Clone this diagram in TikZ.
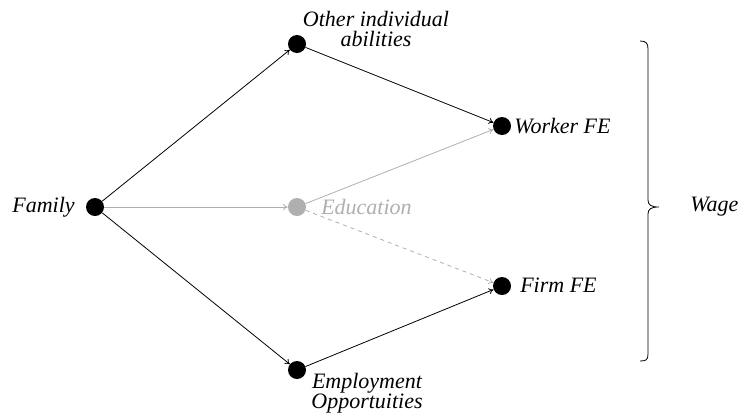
\documentclass[tikz,border=0pt]{standalone}
\usepackage{fontspec}
\setmainfont{LiberationSerif}[Extension=.ttf,UprightFont=*-Regular,ItalicFont=*-Italic,BoldFont=*-Bold,BoldItalicFont=*-BoldItalic]
\usetikzlibrary{arrows.meta}
\definecolor{lgray}{RGB}{175,175,175}
\begin{document}
\begin{tikzpicture}[x=0.75pt,y=-0.75pt,
  dot/.style={circle,fill=black,inner sep=0pt,minimum size=13.5pt},
  gdot/.style={circle,fill=lgray,inner sep=0pt,minimum size=13.5pt},
  lbl/.style={font=\fontsize{16.5}{15}\selectfont\itshape,inner sep=0pt,align=center},
  conn/.style={line width=0.6pt,-{To[length=3.5pt,width=4.5pt]}},
  gconn/.style={conn,draw=lgray}]
\useasboundingbox (0,0) rectangle (741,415);
\node[dot] (fam) at (95,207) {};
\node[dot] (oth) at (297,44) {};
\node[gdot] (edu) at (297,207) {};
\node[dot] (wrk) at (502,126) {};
\node[dot] (frm) at (502,286) {};
\node[dot] (emp) at (297,370) {};
\node[lbl,anchor=east] (tfam) at (75,207) {Family};
\node[lbl] (toth) at (376,29) {Other individual\\abilities};
\node[lbl,anchor=west,text=lgray] (tedu) at (321,207) {Education};
\node[lbl,anchor=west] (twrk) at (514,126) {Worker FE};
\node[lbl,anchor=west] (tfrm) at (520,285) {Firm FE};
\node[lbl] (temp) at (367,393) {Employment\\Opportuities};
\node[lbl,anchor=west] (twage) at (690,207) {Wage};
\draw[conn] (fam) -- (oth);
\draw[conn] (fam) -- (emp);
\draw[gconn] (fam) -- (edu);
\draw[conn] (oth) -- (wrk);
\draw[conn] (emp) -- (frm);
\draw[gconn] (edu) -- (wrk);
\draw[gconn,dashed] (edu) -- (frm);
\draw[line width=0.6pt] (640,41) .. controls (646,41) and (648,43) .. (648,49)
  -- (648,200) .. controls (648,205) and (651,207) .. (659,207)
  .. controls (651,207) and (648,209) .. (648,214)
  -- (648,354) .. controls (648,360) and (646,361) .. (640,361);
\end{tikzpicture}
\end{document}
